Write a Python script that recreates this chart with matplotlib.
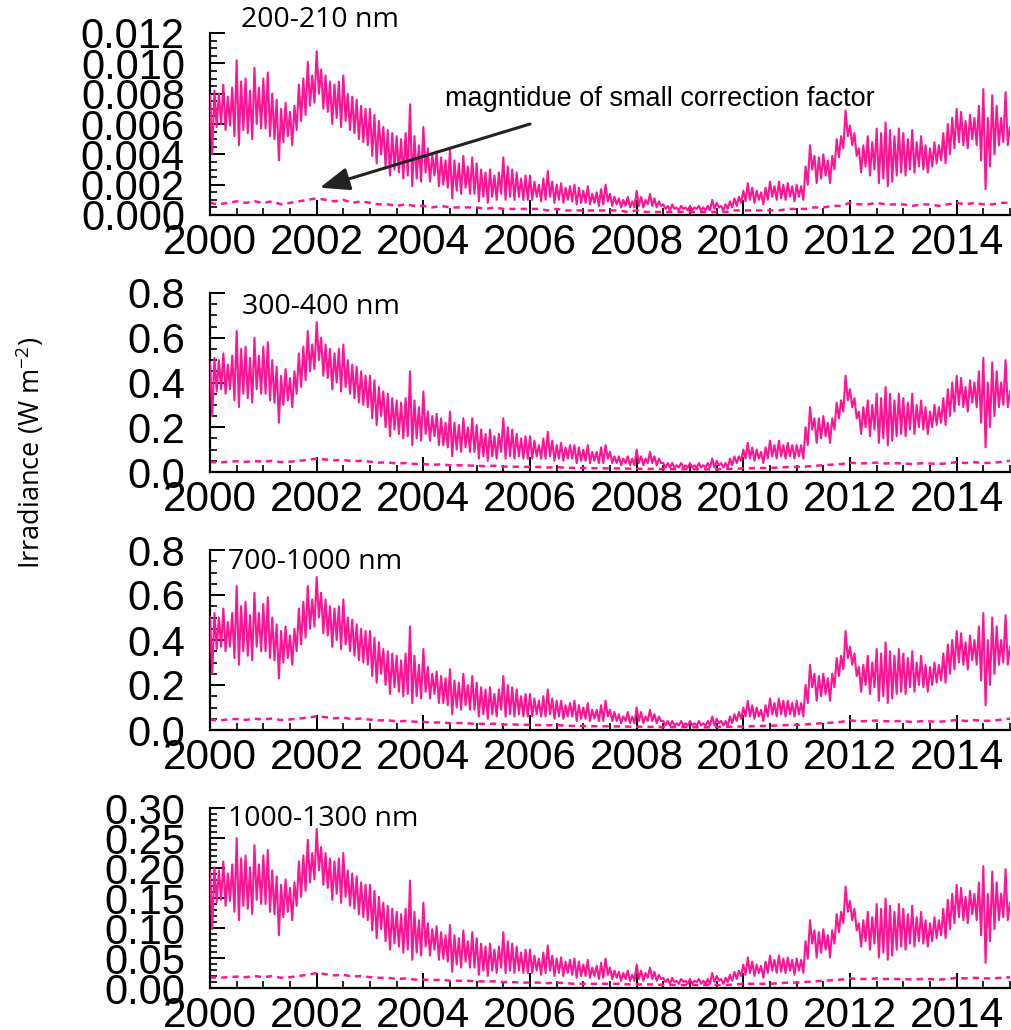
import numpy as np
import matplotlib
matplotlib.use('Agg')
import matplotlib.pyplot as plt
from matplotlib.ticker import MultipleLocator, FormatStrFormatter

# ── Data ─────────────────────────────────────────────────────────────────────
# main series: 24 samples per year from 2000.0 to 2015.0
# panel 1 in units of 1e-3 W m-2
P1_MAIN = [
    7.9, 4.0, 8.2, 5.8, 8.0, 6.0, 8.6, 5.6, 7.8, 5.9, 8.4, 5.2, 10.2, 4.6, 8.8, 5.6, 9.0, 5.4, 8.2, 5.0, 9.7, 6.0, 8.4, 5.7,
    9.0, 5.7, 9.4, 5.2, 8.0, 5.0, 7.6, 3.6, 7.0, 4.8, 7.4, 5.2, 6.8, 4.6, 7.2, 5.6, 8.6, 6.2, 9.0, 6.6, 10.1, 7.2, 9.2, 7.4,
    10.8, 8.0, 9.6, 7.0, 9.2, 6.8, 8.8, 6.0, 8.6, 6.4, 8.8, 5.8, 9.2, 6.2, 8.0, 5.6, 7.8, 5.4, 7.6, 5.0, 7.2, 4.8, 7.0, 4.6,
    7.0, 3.9, 6.6, 3.4, 6.2, 4.0, 5.8, 3.2, 5.6, 2.6, 5.4, 3.0, 5.2, 2.8, 5.0, 2.4, 5.4, 2.6, 7.3, 1.9, 5.2, 2.4, 4.6, 2.2,
    5.8, 2.8, 4.4, 2.2, 4.0, 2.6, 4.2, 1.9, 3.8, 2.0, 3.6, 1.8, 4.3, 1.1, 3.6, 1.6, 3.4, 1.4, 3.9, 1.8, 3.2, 1.4, 3.8, 1.4,
    3.4, 0.9, 3.0, 1.2, 2.8, 0.8, 3.0, 1.2, 2.6, 1.0, 2.8, 1.4, 3.8, 1.0, 3.2, 1.2, 3.0, 1.0, 2.8, 1.2, 2.4, 1.0, 2.6, 1.0,
    2.6, 1.0, 2.2, 1.2, 2.0, 0.9, 2.4, 1.0, 2.9, 1.2, 2.2, 0.8, 2.0, 1.0, 2.1, 0.8, 1.8, 1.0, 1.9, 0.9, 2.0, 0.7, 1.8, 0.8,
    1.6, 0.8, 1.9, 0.7, 1.4, 0.8, 1.5, 0.6, 1.7, 0.7, 2.0, 0.9, 1.4, 0.6, 1.2, 0.7, 1.1, 0.5, 1.0, 0.6, 1.2, 0.5, 0.9, 0.5,
    1.6, 0.6, 1.2, 0.5, 1.0, 0.7, 1.4, 0.6, 1.1, 0.5, 0.9, 0.6, 0.7, 0.4, 0.6, 0.3, 0.7, 0.4, 0.5, 0.3, 0.6, 0.4, 0.5, 0.3,
    0.6, 0.3, 0.5, 0.4, 0.6, 0.3, 0.5, 0.3, 0.6, 0.3, 1.0, 0.4, 0.8, 0.5, 0.6, 0.3, 0.7, 0.4, 0.9, 0.5, 1.1, 0.6, 1.2, 0.8,
    1.6, 0.9, 2.1, 1.0, 1.8, 0.8, 1.6, 1.0, 1.5, 0.7, 1.8, 1.0, 2.2, 1.2, 1.9, 1.0, 2.2, 1.1, 2.0, 1.0, 2.1, 1.2, 1.9, 0.9,
    2.0, 1.2, 1.9, 1.0, 3.2, 2.0, 4.6, 3.0, 3.9, 2.1, 3.8, 2.4, 4.0, 2.6, 3.6, 2.1, 3.9, 3.0, 5.0, 3.8, 5.2, 4.4, 6.9, 5.2,
    5.9, 4.6, 5.4, 3.9, 4.4, 2.8, 4.6, 3.2, 5.2, 2.6, 4.8, 3.0, 5.7, 2.1, 5.4, 2.4, 6.1, 1.9, 5.6, 2.2, 5.2, 2.6, 5.7, 2.8,
    5.4, 2.6, 5.0, 3.0, 5.6, 2.8, 4.8, 3.2, 5.2, 3.0, 4.6, 2.8, 4.4, 3.2, 4.8, 3.4, 4.6, 3.6, 5.4, 3.4, 6.0, 4.0, 6.4, 4.4,
    7.0, 4.8, 6.8, 4.6, 6.2, 4.4, 6.6, 5.0, 6.4, 4.6, 7.2, 3.6, 8.3, 1.7, 6.4, 3.2, 7.9, 4.0, 7.2, 4.6, 6.4, 4.8, 8.1, 4.6,
    5.8,
]

# panel 2 in units of 0.01 W m-2
P2_MAIN = [
    49, 25, 51, 36, 50, 37, 53, 35, 48, 37, 52, 32, 63, 29, 55, 35, 56, 33, 51, 31, 60, 37, 52, 35,
    56, 35, 58, 32, 50, 31, 47, 22, 43, 30, 46, 32, 42, 29, 45, 35, 53, 38, 56, 41, 63, 45, 57, 46,
    67, 50, 60, 43, 57, 42, 55, 37, 53, 40, 55, 36, 57, 38, 50, 35, 48, 33, 47, 31, 45, 30, 43, 29,
    43, 24, 41, 21, 38, 25, 36, 20, 35, 16, 33, 19, 32, 17, 31, 15, 33, 16, 45, 12, 32, 15, 29, 14,
    36, 17, 27, 14, 25, 16, 26, 12, 24, 12, 22, 11, 27, 7, 22, 10, 21, 9, 24, 11, 20, 9, 24, 9,
    21, 6, 19, 7, 17, 5, 19, 7, 16, 6, 17, 9, 24, 6, 20, 7, 19, 6, 17, 7, 15, 6, 16, 6,
    16, 6, 14, 7, 12, 6, 15, 6, 18, 7, 14, 5, 12, 6, 13, 5, 11, 6, 12, 6, 12, 4, 11, 5,
    10, 5, 12, 4, 9, 5, 9, 4, 11, 4, 12, 6, 9, 4, 7, 4, 7, 3, 6, 4, 7, 3, 6, 3,
    10, 4, 7, 3, 6, 4, 9, 4, 7, 3, 6, 4, 4, 2, 4, 2, 4, 2, 3, 2, 4, 2, 3, 2,
    4, 2, 3, 2, 4, 2, 3, 2, 4, 2, 6, 2, 5, 3, 4, 2, 4, 2, 6, 3, 7, 4, 7, 5,
    10, 6, 13, 6, 11, 5, 10, 6, 9, 4, 11, 6, 14, 7, 12, 6, 14, 7, 12, 6, 13, 7, 12, 6,
    12, 7, 12, 6, 20, 12, 29, 19, 24, 13, 24, 15, 25, 16, 22, 13, 24, 19, 31, 24, 32, 27, 43, 32,
    37, 29, 33, 24, 27, 17, 29, 20, 32, 16, 30, 19, 35, 13, 33, 15, 38, 12, 35, 14, 32, 16, 35, 17,
    33, 16, 31, 19, 35, 17, 30, 20, 32, 19, 29, 17, 27, 20, 30, 21, 29, 22, 33, 21, 37, 25, 40, 27,
    43, 30, 42, 29, 38, 27, 41, 31, 40, 29, 45, 22, 51, 11, 40, 20, 49, 25, 45, 29, 40, 30, 50, 29,
    36,
]

# panel 3 in units of 0.01 W m-2
P3_MAIN = [
    50, 25, 52, 36, 50, 37, 54, 35, 48, 37, 52, 32, 64, 29, 55, 35, 57, 33, 51, 31, 61, 37, 52, 35,
    56, 35, 59, 32, 50, 31, 47, 23, 44, 30, 46, 32, 42, 29, 45, 35, 54, 38, 57, 41, 64, 45, 58, 46,
    68, 50, 61, 43, 58, 42, 55, 37, 54, 40, 55, 36, 58, 38, 50, 35, 49, 33, 47, 31, 45, 30, 44, 29,
    44, 24, 41, 21, 39, 25, 36, 20, 35, 16, 34, 19, 33, 17, 31, 15, 34, 16, 46, 12, 33, 15, 29, 14,
    36, 17, 28, 14, 25, 16, 26, 12, 24, 12, 23, 11, 27, 7, 22, 10, 21, 9, 25, 11, 20, 9, 24, 9,
    21, 6, 19, 7, 18, 5, 19, 7, 16, 6, 18, 9, 24, 6, 20, 7, 19, 6, 18, 7, 15, 6, 16, 6,
    16, 6, 14, 7, 13, 6, 15, 6, 18, 7, 14, 5, 13, 6, 13, 5, 11, 6, 12, 6, 13, 4, 11, 5,
    10, 5, 12, 4, 9, 5, 9, 4, 11, 4, 13, 6, 9, 4, 8, 4, 7, 3, 6, 4, 8, 3, 6, 3,
    10, 4, 8, 3, 6, 4, 9, 4, 7, 3, 6, 4, 4, 2, 4, 2, 4, 2, 3, 2, 4, 2, 3, 2,
    4, 2, 3, 2, 4, 2, 3, 2, 4, 2, 6, 2, 5, 3, 4, 2, 4, 2, 6, 3, 7, 4, 8, 5,
    10, 6, 13, 6, 11, 5, 10, 6, 9, 4, 11, 6, 14, 7, 12, 6, 14, 7, 13, 6, 13, 7, 12, 6,
    13, 7, 12, 6, 20, 12, 29, 19, 25, 13, 24, 15, 25, 16, 23, 13, 25, 19, 32, 24, 33, 27, 44, 32,
    37, 29, 34, 24, 28, 17, 29, 20, 33, 16, 30, 19, 36, 13, 34, 15, 39, 12, 35, 14, 33, 16, 36, 17,
    34, 16, 32, 19, 35, 17, 30, 20, 33, 19, 29, 17, 28, 20, 30, 21, 29, 22, 34, 21, 38, 25, 40, 27,
    44, 30, 43, 29, 39, 27, 42, 31, 40, 29, 46, 22, 52, 11, 40, 20, 50, 25, 46, 29, 40, 30, 51, 29,
    37,
]

# panel 4 in units of 0.001 W m-2
P4_MAIN = [
    194, 98, 201, 142, 196, 147, 211, 137, 191, 145, 206, 127, 250, 113, 216, 137, 221, 132, 201, 123, 238, 147, 206, 140,
    221, 140, 230, 127, 196, 123, 186, 88, 172, 118, 181, 127, 167, 113, 176, 137, 211, 152, 221, 162, 247, 176, 225, 181,
    265, 196, 235, 172, 225, 167, 216, 147, 211, 157, 216, 142, 225, 152, 196, 137, 191, 132, 186, 123, 176, 118, 172, 113,
    172, 96, 162, 83, 152, 98, 142, 78, 137, 64, 132, 74, 127, 69, 123, 59, 132, 64, 179, 47, 127, 59, 113, 54,
    142, 69, 108, 54, 98, 64, 103, 47, 93, 49, 88, 44, 105, 27, 88, 39, 83, 34, 96, 44, 78, 34, 93, 34,
    83, 22, 74, 29, 69, 20, 74, 29, 64, 25, 69, 34, 93, 25, 78, 29, 74, 25, 69, 29, 59, 25, 64, 25,
    64, 25, 54, 29, 49, 22, 59, 25, 71, 29, 54, 20, 49, 25, 51, 20, 44, 25, 47, 22, 49, 17, 44, 20,
    39, 20, 47, 17, 34, 20, 37, 15, 42, 17, 49, 22, 34, 15, 29, 17, 27, 12, 25, 15, 29, 12, 22, 12,
    39, 15, 29, 12, 25, 17, 34, 15, 27, 12, 22, 15, 17, 10, 15, 7, 17, 10, 12, 7, 15, 10, 12, 7,
    15, 7, 12, 10, 15, 7, 12, 7, 15, 7, 25, 10, 20, 12, 15, 7, 17, 10, 22, 12, 27, 15, 29, 20,
    39, 22, 51, 25, 44, 20, 39, 25, 37, 17, 44, 25, 54, 29, 47, 25, 54, 27, 49, 25, 51, 29, 47, 22,
    49, 29, 47, 25, 78, 49, 113, 74, 96, 51, 93, 59, 98, 64, 88, 51, 96, 74, 123, 93, 127, 108, 169, 127,
    145, 113, 132, 96, 108, 69, 113, 78, 127, 64, 118, 74, 140, 51, 132, 59, 149, 47, 137, 54, 127, 64, 140, 69,
    132, 64, 123, 74, 137, 69, 118, 78, 127, 74, 113, 69, 108, 78, 118, 83, 113, 88, 132, 83, 147, 98, 157, 108,
    172, 118, 167, 113, 152, 108, 162, 123, 157, 113, 176, 88, 203, 42, 157, 78, 194, 98, 176, 113, 157, 118, 198, 113,
    142,
]

# correction factor: 6 samples per year from 2000.0 to 2015.0
P1_CORR = [
    0.8, 0.7, 0.8, 0.9, 0.8, 0.9,  0.8, 0.9, 0.7, 0.8, 0.9, 1.0,  1.1, 1.0, 0.9, 1.0, 0.8, 0.9,
    0.8, 0.7, 0.7, 0.6, 0.7, 0.6,  0.6, 0.5, 0.6, 0.5, 0.5, 0.5,  0.5, 0.4, 0.5, 0.4, 0.4, 0.4,
    0.4, 0.4, 0.3, 0.4, 0.3, 0.3,  0.3, 0.3, 0.3, 0.3, 0.3, 0.2,  0.3, 0.2, 0.2, 0.2, 0.2, 0.2,
    0.2, 0.2, 0.2, 0.2, 0.2, 0.3,  0.3, 0.3, 0.3, 0.3, 0.3, 0.4,  0.4, 0.4, 0.5, 0.5, 0.6, 0.6,
    0.8, 0.7, 0.7, 0.8, 0.7, 0.7,  0.7, 0.6, 0.7, 0.7, 0.6, 0.7,  0.8, 0.7, 0.8, 0.7, 0.7, 0.8,
    0.8,
]
P2_CORR = [
    4.5, 4.2, 4.6, 4.8, 4.5, 4.9,  4.6, 5.0, 4.4, 4.6, 5.0, 5.4,  6.0, 5.6, 5.2, 5.4, 4.8, 5.0,
    4.6, 4.2, 4.3, 3.8, 4.0, 3.6,  3.6, 3.2, 3.4, 3.0, 3.0, 2.9,  2.8, 2.6, 2.8, 2.4, 2.4, 2.3,
    2.3, 2.2, 2.0, 2.2, 1.9, 1.8,  1.8, 1.7, 1.7, 1.6, 1.6, 1.5,  1.5, 1.4, 1.4, 1.3, 1.3, 1.3,
    1.3, 1.2, 1.2, 1.3, 1.3, 1.5,  1.6, 1.7, 1.8, 1.8, 2.0, 2.2,  2.3, 2.4, 2.8, 3.0, 3.3, 3.5,
    4.2, 3.8, 3.9, 4.2, 3.8, 3.9,  3.9, 3.5, 3.9, 3.8, 3.6, 3.9,  4.4, 4.0, 4.4, 4.0, 4.1, 4.5,
    5.0,
]
P3_CORR = [
    4.6, 4.2, 4.7, 4.9, 4.5, 5.0,  4.7, 5.1, 4.4, 4.7, 5.1, 5.5,  6.1, 5.7, 5.2, 5.5, 4.8, 5.1,
    4.6, 4.3, 4.3, 3.9, 4.0, 3.7,  3.6, 3.3, 3.4, 3.0, 3.1, 2.9,  2.8, 2.7, 2.8, 2.4, 2.5, 2.3,
    2.3, 2.2, 2.1, 2.2, 1.9, 1.8,  1.8, 1.7, 1.7, 1.6, 1.6, 1.5,  1.5, 1.4, 1.4, 1.3, 1.3, 1.3,
    1.3, 1.2, 1.2, 1.3, 1.4, 1.5,  1.6, 1.7, 1.8, 1.9, 2.0, 2.2,  2.3, 2.5, 2.8, 3.0, 3.3, 3.6,
    4.3, 3.8, 4.0, 4.2, 3.9, 3.9,  4.0, 3.5, 3.9, 3.8, 3.7, 3.9,  4.5, 4.0, 4.4, 4.1, 4.1, 4.6,
    5.0,
]
P4_CORR = [
    18, 17, 18, 19, 18, 20,  18, 20, 17, 18, 20, 22,  25, 23, 21, 22, 19, 20,
    18, 17, 17, 15, 16, 14,  14, 13, 14, 12, 12, 12,  11, 11, 11, 10, 10, 9,
    9, 9, 8, 9, 8, 7,  7, 7, 7, 7, 7, 6,  6, 6, 6, 5, 5, 5,
    5, 5, 5, 5, 5, 6,  7, 7, 7, 7, 8, 9,  9, 10, 11, 12, 13, 14,
    16, 15, 15, 16, 15, 15,  15, 14, 15, 15, 14, 15,  17, 16, 17, 16, 16, 17,
    18,
]

TITLES = ['200-210 nm', '300-400 nm', '700-1000 nm', '1000-1300 nm']
UNITS = [1e-3, 1e-2, 1e-2, 1e-3]
YMAX = [0.012, 0.8, 0.8, 0.30]
Y_MAJOR = [0.002, 0.2, 0.2, 0.05]
Y_MINOR = [0.0005, 0.05, 0.05, 0.01]
Y_FMT = ['%.3f', '%.1f', '%.1f', '%.2f']

# ── Style ────────────────────────────────────────────────────────────────────
PINK = '#ff1493'
TICK_FONT = 'Liberation Sans'
LABEL_FONT = 'Open Sans'

plt.rcParams.update({
    'font.family': TICK_FONT,
    'mathtext.default': 'regular',
    'axes.linewidth': 1.6,
    'xtick.direction': 'in',
    'ytick.direction': 'in',
    'xtick.major.size': 11,
    'xtick.minor.size': 5,
    'ytick.major.size': 11,
    'ytick.minor.size': 5,
    'xtick.major.width': 1.4,
    'xtick.minor.width': 1.2,
    'ytick.major.width': 1.4,
    'ytick.minor.width': 1.2,
})

W, H = 1011, 1030
fig = plt.figure(figsize=(W / 100, H / 100), dpi=100)

# axes boxes in pixels: (top, bottom)
boxes = [(33, 215), (293, 472), (550, 730), (808, 988)]
left_px, right_px = 210, 1010
title_pos = [(0.039, 1.071), (0.040, 0.922), (0.022, 0.933), (0.022, 0.939)]

mains = [P1_MAIN, P2_MAIN, P3_MAIN, P4_MAIN]
corrs = [P1_CORR, P2_CORR, P3_CORR, P4_CORR]

axes = []
for k in range(4):
    top, bot = boxes[k]
    ax = fig.add_axes([left_px / W, 1 - bot / H, (right_px - left_px) / W, (bot - top) / H])
    axes.append(ax)

    main = np.array(mains[k]) * UNITS[k]
    corr = np.array(corrs[k]) * UNITS[k]
    t_main = 2000 + np.arange(len(main)) / 24
    t_corr = 2000 + np.arange(len(corr)) / 6

    ax.plot(t_corr, corr, color=PINK, lw=1.8, ls=(0, (2.5, 2.0)), zorder=2)
    ax.plot(t_main, main, color=PINK, lw=1.5, zorder=3)

    ax.set_xlim(2000, 2015)
    ax.set_ylim(0, YMAX[k])
    ax.spines[['top', 'right']].set_visible(False)

    ax.xaxis.set_major_locator(MultipleLocator(2))
    ax.xaxis.set_minor_locator(MultipleLocator(0.5))
    ax.yaxis.set_major_locator(MultipleLocator(Y_MAJOR[k]))
    ax.yaxis.set_minor_locator(MultipleLocator(Y_MINOR[k]))
    ax.yaxis.set_major_formatter(FormatStrFormatter(Y_FMT[k]))
    ax.xaxis.set_major_formatter(FormatStrFormatter('%d'))
    ax.tick_params(axis='x', which='major', labelsize=30.5, pad=6)
    ax.tick_params(axis='y', which='major', labelsize=30, pad=18)

    ax.text(title_pos[k][0], title_pos[k][1], TITLES[k], transform=ax.transAxes,
            ha='left', va='center', fontsize=20.5, family=LABEL_FONT, clip_on=False)

# annotation on the top panel
ax1 = axes[0]
ax1.annotate('', xy=(2002.06, 0.0018), xytext=(2006.0, 0.0060),
             arrowprops=dict(arrowstyle='-|>,head_length=0.9,head_width=0.35',
                             mutation_scale=20, lw=2.2, color='#222222',
                             shrinkA=0, shrinkB=0), zorder=5)
ax1.text(2004.41, 0.00767, 'magntidue of small correction factor',
         ha='left', va='center', fontsize=19.5, family=TICK_FONT)

fig.text(0.030, 0.56, 'Irradiance (W m$^{-2}$)', rotation=90, ha='center', va='center',
         fontsize=19.5, family=LABEL_FONT)

fig.savefig('out.png', dpi=100, facecolor='white')
